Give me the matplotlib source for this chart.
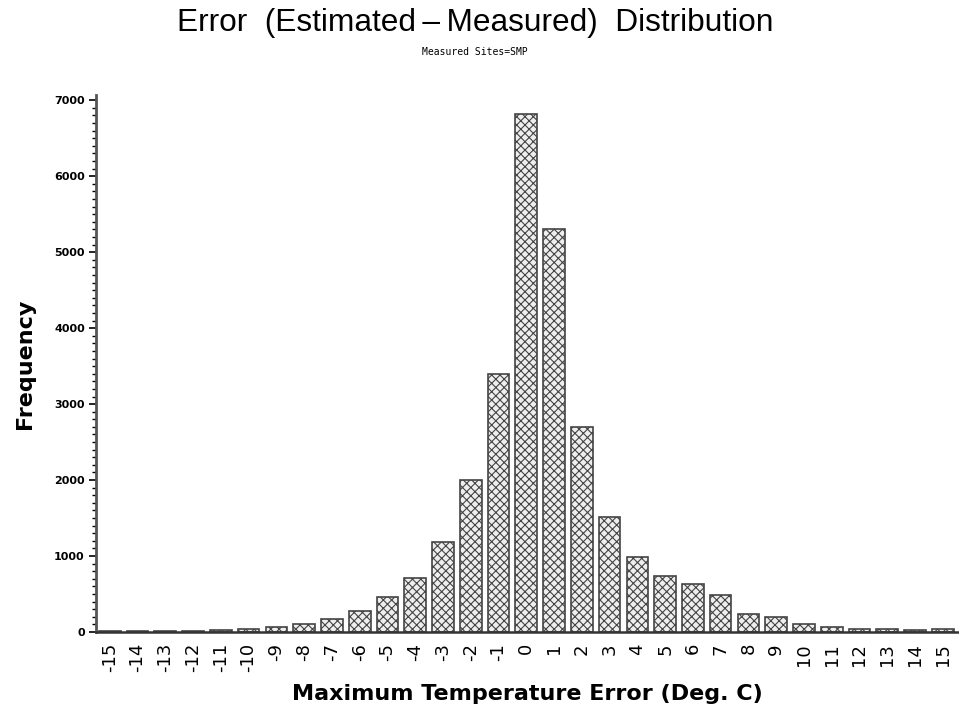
import numpy as np
import matplotlib.pyplot as plt
from matplotlib.ticker import MultipleLocator

# error bins (deg C) and counts
errors = list(range(-15, 16))
counts = [10, 12, 12, 15, 25, 45, 65, 100, 175, 270, 460, 715, 1180, 2000, 3390,
          6820, 5310, 2700, 1510, 990, 735, 630, 490, 240, 200, 110, 70, 45, 40, 20, 40]
tick_labels = [str(e) for e in errors]

plt.rcParams['hatch.color'] = '#333333'
plt.rcParams['hatch.linewidth'] = 0.8

fig = plt.figure(figsize=(9.59, 7.27), dpi=100)
ax = fig.add_axes([0.100, 0.1307, 0.899, 0.7383])

ax.bar(errors, counts, width=0.78, facecolor='#eeeeee', edgecolor='#444444',
       hatch='xxxx', linewidth=1.2)

ax.set_xlim(-15.5, 15.55)
ax.set_ylim(0, 7066)
ax.set_xticks(errors)
ax.set_xticklabels(tick_labels, rotation=90, fontsize=13)
ax.tick_params(axis='x', length=0, pad=8)
ax.yaxis.set_major_locator(MultipleLocator(1000))
ax.yaxis.set_minor_locator(MultipleLocator(100))
ax.tick_params(axis='y', which='major', length=5, width=1.2, labelsize=8, pad=3)
ax.tick_params(axis='y', which='minor', length=3, width=1)
for lab in ax.get_yticklabels():
    lab.set_fontweight('bold')

for s in ['top', 'right']:
    ax.spines[s].set_visible(False)
ax.spines['left'].set_color('#555555')
ax.spines['left'].set_linewidth(2)
ax.spines['bottom'].set_color('#333333')
ax.spines['bottom'].set_linewidth(1.8)

ax.set_ylabel('Frequency', fontsize=16, fontweight='bold', labelpad=14)
ax.set_xlabel('Maximum Temperature Error (Deg. C)', fontsize=16, fontweight='bold', labelpad=8)

fig.text(0.495, 0.968, 'Error  (Estimated\u2009\u2013\u2009Measured)  Distribution',
         ha='center', va='center', fontsize=22.8,
         family=['Liberation Sans', 'DejaVu Sans'])
fig.text(0.495, 0.928, 'Measured Sites=SMP', ha='center', va='center',
         fontsize=7, family='DejaVu Sans Mono')

fig.savefig('out.png', dpi=100)
